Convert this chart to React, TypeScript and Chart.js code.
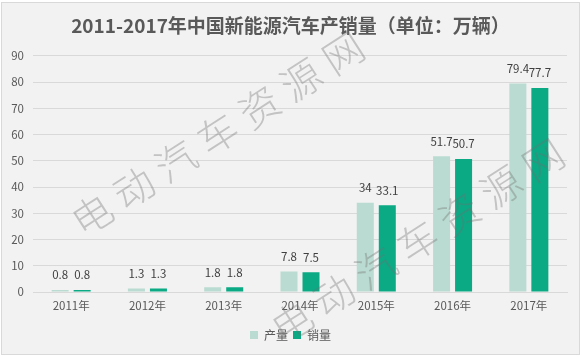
import React, { useEffect, useRef } from "react";
import { Chart, registerables } from "chart.js";

Chart.register(...registerables);

const categories = ["2011年", "2012年", "2013年", "2014年", "2015年", "2016年", "2017年"];
const production = [0.8, 1.3, 1.8, 7.8, 34, 51.7, 79.4];
const sales = [0.8, 1.3, 1.8, 7.5, 33.1, 50.7, 77.7];
const seriesNames = ["产量", "销量"];
const titleText = "2011-2017年中国新能源汽车产销量（单位：万辆）";
const watermarkText = "电动汽车资源网";

const FONT = '"Noto Sans CJK SC", "Noto Sans", sans-serif';

const dataLabelPlugin = {
  id: "dataLabels",
  afterDatasetsDraw(chart: any) {
    const ctx = chart.ctx;
    ctx.save();
    ctx.font = `11.5px ${FONT}`;
    ctx.fillStyle = "#404040";
    ctx.textAlign = "center";
    ctx.textBaseline = "middle";
    chart.data.datasets.forEach((ds: any, i: number) => {
      const meta = chart.getDatasetMeta(i);
      meta.data.forEach((bar: any, j: number) => {
        ctx.fillText(String(ds.data[j]), bar.x, bar.y - 15);
      });
    });
    ctx.restore();
  },
};

const widenYLabelArea = {
  id: "widenYLabelArea",
  afterLayout(chart: any) {
    if (chart.scales.y) chart.scales.y.left = 0;
  },
};

const watermarkPlugin = {
  id: "watermark",
  afterDraw(chart: any) {
    const ctx = chart.ctx;
    const chars = Array.from(watermarkText);
    const angle = Math.atan2(-162, 251);
    const starts = [
      [92, 215],
      [292, 322],
    ];
    const step = [251 / 6, -162 / 6];
    ctx.save();
    ctx.font = `300 40px ${FONT}`;
    ctx.fillStyle = "rgba(110,110,110,0.36)";
    ctx.textAlign = "center";
    ctx.textBaseline = "middle";
    starts.forEach(([sx, sy]) => {
      chars.forEach((ch, k) => {
        ctx.save();
        ctx.translate(sx + step[0] * k, sy + step[1] * k);
        ctx.rotate(angle);
        ctx.fillText(ch, 0, 0);
        ctx.restore();
      });
    });
    ctx.restore();
  },
};

export default function App() {
  const ref = useRef<HTMLCanvasElement>(null);

  useEffect(() => {
    if (!ref.current) return;
    const chart = new Chart(ref.current, {
      type: "bar",
      data: {
        labels: categories,
        datasets: [
          {
            label: seriesNames[0],
            data: production,
            backgroundColor: "#badbd1",
            categoryPercentage: 0.577,
            barPercentage: 0.773,
          },
          {
            label: seriesNames[1],
            data: sales,
            backgroundColor: "#0baa85",
            categoryPercentage: 0.577,
            barPercentage: 0.773,
          },
        ],
      },
      options: {
        responsive: false,
        animation: false,
        devicePixelRatio: 1,
        layout: { padding: { top: 0, left: 14, right: 15, bottom: 7 } },
        plugins: {
          title: {
            display: true,
            text: titleText,
            color: "#595959",
            font: { family: FONT, size: 19, weight: "bold", lineHeight: 1.2 },
            padding: { top: 14, bottom: 19 },
          },
          legend: {
            position: "bottom",
            labels: {
              boxWidth: 8,
              boxHeight: 8,
              padding: 5,
              color: "#595959",
              font: { family: FONT, size: 12 },
            },
          },
          tooltip: { enabled: false },
        },
        scales: {
          x: {
            grid: { display: false, drawTicks: false },
            border: { display: true, color: "#d9d9d9" },
            ticks: { color: "#595959", font: { family: FONT, size: 11.5 }, padding: 7 },
            afterFit(scale: any) {
              scale.height = 32;
            },
          },
          y: {
            min: 0,
            max: 90,
            ticks: { stepSize: 10, color: "#595959", font: { family: FONT, size: 11.5 }, padding: 9 },
            grid: { color: "#d9d9d9", drawTicks: false },
            border: { display: false },
            afterFit(scale: any) {
              scale.width = 19;
            },
          },
        },
      },
      plugins: [dataLabelPlugin, widenYLabelArea, watermarkPlugin],
    });
    return () => chart.destroy();
  }, []);

  return (
    <div style={{ position: "fixed", left: 0, top: 0, width: 582, height: 358, background: "#ffffff" }}>
      <div
        style={{
          position: "absolute",
          left: 1,
          top: 2,
          width: 579,
          height: 353,
          boxSizing: "border-box",
          border: "1px solid #d9d9d9",
          background: "#f2f2f2",
        }}
      />
      <canvas ref={ref} width={582} height={358} style={{ position: "absolute", left: 0, top: 0, width: 582, height: 358 }} />
    </div>
  );
}
